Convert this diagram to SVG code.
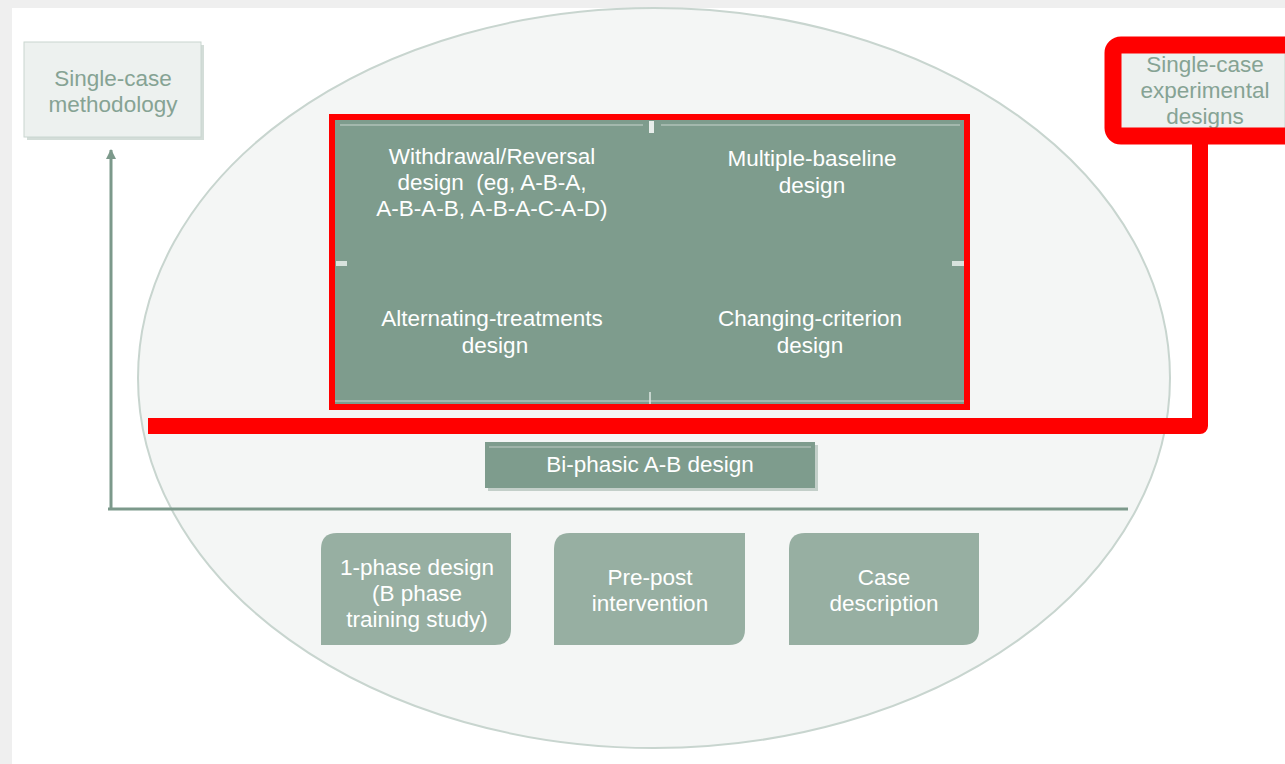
<svg xmlns="http://www.w3.org/2000/svg" width="1285" height="764" viewBox="0 0 1285 764">
<defs>
<style>
.t{font-family:"Liberation Sans",Arial,sans-serif;font-size:22.5px;text-anchor:middle}
.w{fill:#ffffff}
.g{fill:#86a394}
.lite{fill:#edf1ef;stroke:#c9d6d0;stroke-width:1}
.dark{fill:#7e9c8d}
.mid{fill:#97afa2}
.ax{stroke:#7c998b;stroke-width:3;fill:none}
.red{stroke:#ff0000;fill:none}
</style>
<marker id="ah" viewBox="0 0 10 10" refX="9" refY="5" markerWidth="3.5" markerHeight="3.5" orient="auto">
<path d="M0,0 L10,5 L0,10 z" fill="#7c998b"/>
</marker>
</defs>
<rect x="0" y="0" width="1285" height="764" fill="#efefef"/>
<rect x="12" y="8" width="1273" height="756" fill="#ffffff"/>
<ellipse id="scope" cx="654" cy="378" rx="516" ry="370" fill="#f4f6f5" stroke="#c8d5cf" stroke-width="2"/>

<g id="connectors">
<line class="ax" x1="111" y1="510" x2="111" y2="150" marker-end="url(#ah)"/>
<line class="ax" x1="108" y1="509" x2="1128" y2="509"/>
</g>

<g id="n-methodology">
<rect x="27" y="45" width="177" height="95" fill="#d3ddd8"/>
<rect class="lite" x="24" y="42" width="177" height="95"/>
<text class="t g" x="113" y="86">Single-case</text>
<text class="t g" x="113" y="112">methodology</text>
</g>

<g id="n-experimental">
<rect class="lite" x="1120" y="52" width="165" height="78"/>
<text class="t g" x="1205" y="72">Single-case</text>
<text class="t g" x="1205" y="98">experimental</text>
<text class="t g" x="1205" y="124">designs</text>
</g>

<g id="n-quad">
<rect class="dark" x="333" y="118" width="634" height="289"/>
<line x1="340" y1="125" x2="643" y2="125" stroke="#a3b8ad" stroke-width="2"/>
<line x1="661" y1="125" x2="960" y2="125" stroke="#a3b8ad" stroke-width="2"/>
<line x1="335" y1="401" x2="964" y2="401" stroke="#a3b8ad" stroke-width="2"/>
<rect x="649" y="121" width="5" height="12" fill="#e8eeeb"/>
<line x1="650" y1="392" x2="650" y2="404" stroke="#e0e8e4" stroke-width="1.5"/>
<rect x="336" y="261" width="11" height="5" fill="#d8e2dd"/>
<rect x="952" y="261" width="12" height="5" fill="#d8e2dd"/>
<text class="t w" x="492" y="164">Withdrawal/Reversal</text>
<text class="t w" x="492" y="190" xml:space="preserve">design  (eg, A-B-A,</text>
<text class="t w" x="492" y="216">A-B-A-B, A-B-A-C-A-D)</text>
<text class="t w" x="812" y="166">Multiple-baseline</text>
<text class="t w" x="812" y="193">design</text>
<text class="t w" x="492" y="326">Alternating-treatments</text>
<text class="t w" x="495" y="353">design</text>
<text class="t w" x="810" y="326">Changing-criterion</text>
<text class="t w" x="810" y="353">design</text>
<rect class="red" x="332" y="117" width="635" height="290" stroke-width="6"/>
</g>

<g id="n-biphasic">
<rect x="488" y="445" width="330" height="46" fill="#c3cfc9"/>
<rect class="dark" x="485" y="442" width="330" height="46"/>
<line x1="489" y1="447" x2="811" y2="447" stroke="#9fb4a9" stroke-width="2"/>
<text class="t w" x="650" y="472">Bi-phasic A-B design</text>
</g>

<g id="n-onephase">
<path d="M337,533 H511 V629 Q511,645 495,645 H321 V549 Q321,533 337,533 Z" class="mid"/>
<text class="t w" x="417" y="575">1-phase design</text>
<text class="t w" x="417" y="601">(B phase</text>
<text class="t w" x="417" y="627">training study)</text>
</g>

<g id="n-prepost">
<path d="M570,533 H745 V629 Q745,645 729,645 H554 V549 Q554,533 570,533 Z" class="mid"/>
<text class="t w" x="650" y="585">Pre-post</text>
<text class="t w" x="650" y="611">intervention</text>
</g>

<g id="n-case">
<path d="M805,533 H979 V629 Q979,645 963,645 H789 V549 Q789,533 805,533 Z" class="mid"/>
<text class="t w" x="884" y="585">Case</text>
<text class="t w" x="884" y="611">description</text>
</g>

<g id="highlight">
<rect class="red" x="1113" y="45" width="190" height="91" rx="8" stroke-width="17"/>
<path class="red" d="M148,426 H1200 V140" stroke-width="16" stroke-linejoin="round"/>
</g>
</svg>
